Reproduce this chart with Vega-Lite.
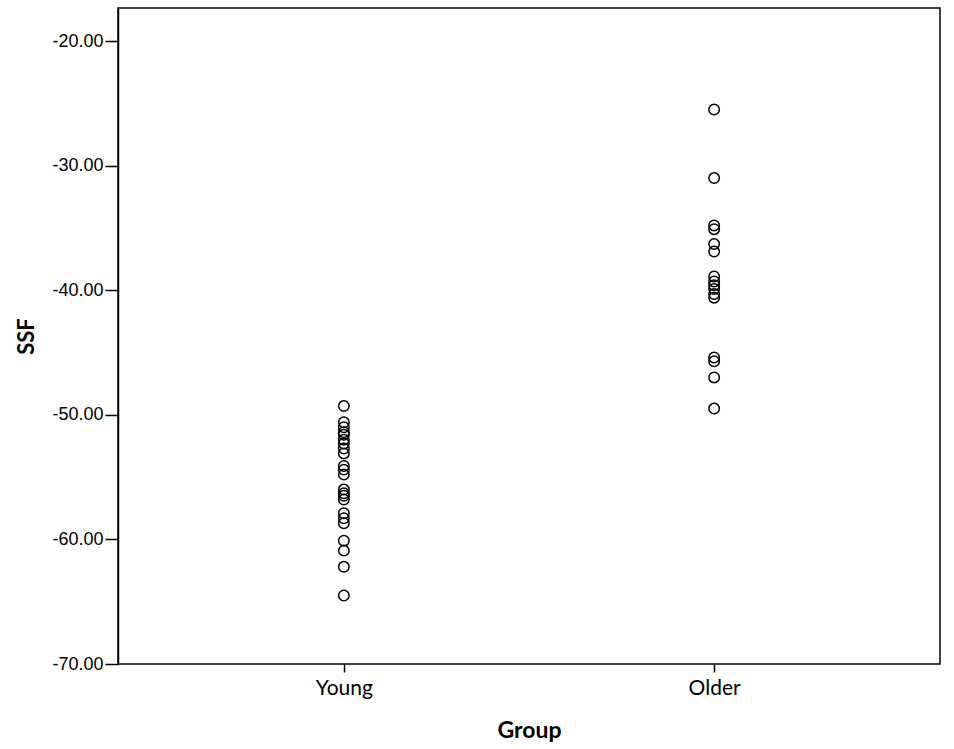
{
  "$schema": "https://vega.github.io/schema/vega-lite/v6.json",
  "width": 822,
  "height": 656,
  "autosize": {"type": "none"},
  "padding": {"left": 118, "top": 8, "right": 14, "bottom": 85},
  "background": "white",
  "config": {
    "view": {"stroke": "black", "strokeWidth": 1.5},
    "axis": {"grid": false, "domainColor": "black", "tickColor": "black", "labelColor": "black", "titleColor": "black", "domainWidth": 1.5, "tickWidth": 1.5}
  },
  "data": {
    "values": [
      {"Group": "Young", "SSF": -49.3},
      {"Group": "Young", "SSF": -50.6},
      {"Group": "Young", "SSF": -51.0},
      {"Group": "Young", "SSF": -51.4},
      {"Group": "Young", "SSF": -51.6},
      {"Group": "Young", "SSF": -52.0},
      {"Group": "Young", "SSF": -52.3},
      {"Group": "Young", "SSF": -52.7},
      {"Group": "Young", "SSF": -53.1},
      {"Group": "Young", "SSF": -54.1},
      {"Group": "Young", "SSF": -54.4},
      {"Group": "Young", "SSF": -54.8},
      {"Group": "Young", "SSF": -56.0},
      {"Group": "Young", "SSF": -56.3},
      {"Group": "Young", "SSF": -56.5},
      {"Group": "Young", "SSF": -56.8},
      {"Group": "Young", "SSF": -57.9},
      {"Group": "Young", "SSF": -58.3},
      {"Group": "Young", "SSF": -58.7},
      {"Group": "Young", "SSF": -60.1},
      {"Group": "Young", "SSF": -60.9},
      {"Group": "Young", "SSF": -62.2},
      {"Group": "Young", "SSF": -64.5},
      {"Group": "Older", "SSF": -25.5},
      {"Group": "Older", "SSF": -31.0},
      {"Group": "Older", "SSF": -34.8},
      {"Group": "Older", "SSF": -35.1},
      {"Group": "Older", "SSF": -36.3},
      {"Group": "Older", "SSF": -36.9},
      {"Group": "Older", "SSF": -38.9},
      {"Group": "Older", "SSF": -39.3},
      {"Group": "Older", "SSF": -39.6},
      {"Group": "Older", "SSF": -39.9},
      {"Group": "Older", "SSF": -40.3},
      {"Group": "Older", "SSF": -40.6},
      {"Group": "Older", "SSF": -45.4},
      {"Group": "Older", "SSF": -45.7},
      {"Group": "Older", "SSF": -47.0},
      {"Group": "Older", "SSF": -49.5}
    ]
  },
  "mark": {"type": "point", "shape": "circle", "filled": false, "size": 110, "stroke": "black", "strokeWidth": 1.5, "opacity": 1},
  "encoding": {
    "x": {
      "field": "Group",
      "type": "nominal",
      "sort": ["Young", "Older"],
      "scale": {"type": "point", "padding": 0.61},
      "axis": {
        "title": "Group",
        "labelAngle": 0,
        "labelFont": "Lato",
        "labelFontSize": 21,
        "labelPadding": 5,
        "tickSize": 8,
        "domain": false,
        "titleFont": "Lato",
        "titleFontSize": 23,
        "titleFontWeight": "bold",
        "titlePadding": 21
      }
    },
    "y": {
      "field": "SSF",
      "type": "quantitative",
      "scale": {"domain": [-70, -17.35], "nice": false, "zero": false},
      "axis": {
        "title": "SSF",
        "values": [-70, -60, -50, -40, -30, -20],
        "labelExpr": "replace(format(datum.value, '.2f'), '\u2212', '-')",
        "labelFont": "Liberation Sans",
        "labelFontSize": 18,
        "labelPadding": 2,
        "tickSize": 13,
        "titleFont": "Lato",
        "titleFontSize": 22,
        "titleFontWeight": "bold",
        "titlePadding": 13
      }
    }
  }
}
